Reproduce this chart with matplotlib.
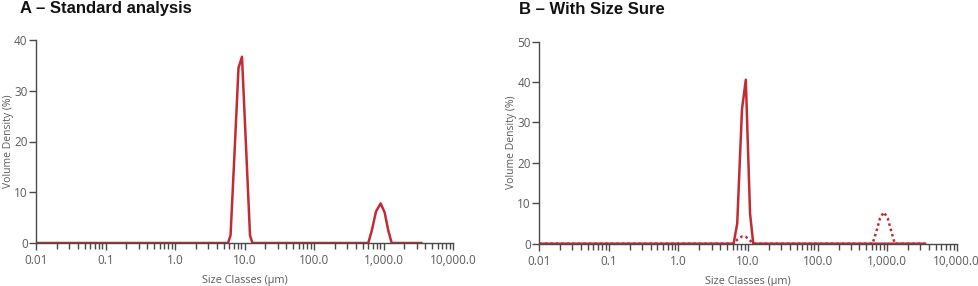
import matplotlib
matplotlib.use("Agg")
import matplotlib.pyplot as plt
from matplotlib.ticker import FixedLocator, FixedFormatter, LogLocator, NullFormatter

# ---- data ----
a_sizes = [0.01, 5.8, 6.3, 7.2, 8.2, 9.2, 10.6, 12.0, 13.0,
           604, 680, 780, 910, 1040, 1170, 1310, 3500]
a_values = [0, 0, 1.5, 18, 34.5, 36.7, 18, 1.5, 0,
            0, 2.5, 6.2, 7.8, 6.0, 2.5, 0, 0]

b_sizes = [0.01, 6.2, 7.0, 8.2, 9.3, 10.7, 11.9, 3500]
b_values = [0, 0, 5, 33.3, 40.6, 7.5, 0, 0]

b_orig_sizes = [0.01, 6.2, 7.0, 8.2, 9.3, 10.7, 11.9,
                617, 700, 790, 897, 1020, 1150, 1290, 3500]
b_orig_values = [0, 0, 1.0, 1.8, 1.7, 0.8, 0,
                 0, 3.0, 6.3, 7.8, 6.3, 3.0, 0, 0]

x_ticks = [0.01, 0.1, 1, 10, 100, 1000, 10000]
x_tick_labels = ["0.01", "0.1", "1.0", "10.0", "100.0", "1,000.0", "10,000.0"]
a_yticks = [0, 10, 20, 30, 40]
b_yticks = [0, 10, 20, 30, 40, 50]

titles = ["A \u2013 Standard analysis", "B \u2013 With Size Sure"]
xlabel = "Size Classes (\u00b5m)"
ylabel = "Volume Density (%)"

RED = "#c42a33"
AX = "#4a4a4a"
TXT = "#5c5c5c"

plt.rcParams["font.family"] = ["Open Sans", "DejaVu Sans"]

fig = plt.figure(figsize=(9.79, 2.86), dpi=100)
W, H = 979, 286

def make_ax(left, right, top, bottom):
    return fig.add_axes([left / W, 1 - bottom / H, (right - left) / W, (bottom - top) / H])

axA = make_ax(36, 453, 40, 243)
axB = make_ax(539.3, 956.7, 41.7, 243.7)

axA.plot(a_sizes, a_values, color=RED, lw=1.8, solid_joinstyle="round")
axB.plot(b_orig_sizes, b_orig_values, color=RED, lw=1.8, linestyle=(0, (1, 1.2)))
axB.plot(b_sizes, b_values, color=RED, lw=1.8, solid_joinstyle="round")

for ax, yt, ymax in ((axA, a_yticks, 40), (axB, b_yticks, 50)):
    ax.set_xscale("log")
    ax.set_xlim(0.01, 10000)
    ax.set_ylim(0, ymax)
    ax.xaxis.set_major_locator(FixedLocator(x_ticks))
    ax.xaxis.set_major_formatter(FixedFormatter(x_tick_labels))
    ax.xaxis.set_minor_locator(LogLocator(base=10, subs=range(2, 10), numticks=20))
    ax.xaxis.set_minor_formatter(NullFormatter())
    ax.set_yticks(yt)
    for s in ("top", "right"):
        ax.spines[s].set_visible(False)
    for s in ("left", "bottom"):
        ax.spines[s].set_color(AX)
        ax.spines[s].set_linewidth(1.0)
    ax.tick_params(axis="x", which="major", direction="out", length=5, width=1.0,
                   color=AX, labelsize=8.5, labelcolor=TXT, pad=3)
    ax.tick_params(axis="x", which="minor", direction="out", length=4, width=1.0, color=AX)
    ax.tick_params(axis="y", which="major", direction="out", length=5, width=1.0,
                   color=AX, labelsize=8.5, labelcolor=TXT, pad=1)
    ax.set_xlabel(xlabel, fontsize=7.8, color=TXT, labelpad=6)
    ax.set_ylabel(ylabel, fontsize=7.5, color=TXT, labelpad=0)
    ax.patch.set_alpha(0)

fig.text(20 / W, 1 - 9 / H, titles[0], fontsize=12, fontweight="bold",
         family=["Liberation Sans", "DejaVu Sans"], va="center", ha="left", color="#111111")
fig.text(519 / W, 1 - 9 / H, titles[1], fontsize=12, fontweight="bold",
         family=["Liberation Sans", "DejaVu Sans"], va="center", ha="left", color="#111111")

fig.savefig("out.png", dpi=100, facecolor="white")
